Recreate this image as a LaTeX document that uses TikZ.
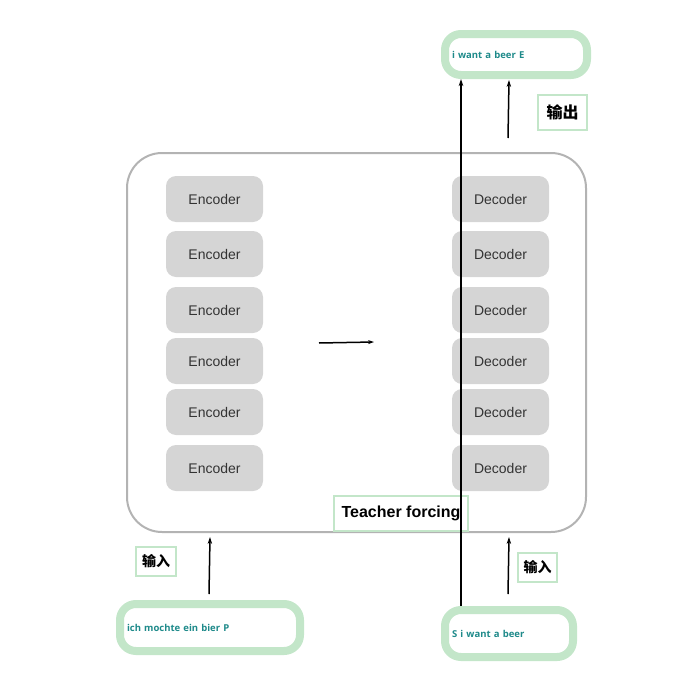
\documentclass[tikz,border=0pt]{standalone}
\usepackage{fontspec}
\setmainfont{Liberation Sans}
\newfontfamily\cjkfont{Noto Sans CJK SC}
\newfontfamily\tealfont{Open Sans}
\usetikzlibrary{arrows.meta}
\definecolor{boxgray}{HTML}{D5D5D5}
\definecolor{outergray}{HTML}{B3B3B3}
\definecolor{lgreen}{HTML}{C3E6C9}
\definecolor{tealtxt}{HTML}{1E8A8A}
\definecolor{txtgray}{HTML}{333333}
\tikzset{
  block/.style={fill=boxgray, rounded corners=10pt, minimum width=97pt, minimum height=46pt,
    inner sep=0pt, text=txtgray, font=\fontsize{14}{16}\selectfont},
  seqbox/.style={draw=lgreen, line width=8pt, fill=white, rounded corners=16pt, inner sep=0pt,
    align=left, text=tealtxt, font=\tealfont\bfseries\fontsize{9.5}{11}\selectfont},
  tagbox/.style={draw=lgreen, line width=2pt, fill=white, inner sep=0pt,
    font=\bfseries\fontsize{16}{18}\selectfont},
  arr/.style={line width=1.5pt, -{Stealth[length=7pt,width=4.5pt]}},
}
\begin{document}
\begin{tikzpicture}[x=1pt,y=-1pt]
\useasboundingbox (0,0) rectangle (699,680);
% outer box
\node[draw=outergray, line width=2pt, rounded corners=35pt, minimum width=459pt, minimum height=379pt, inner sep=0pt] (outer) at (356.5,342.5) {};
% encoders and decoders
\foreach \y [count=\i] in {199,254,310,361,412,468} {
  \node[block] (enc\i) at (214.5,\y) {Encoder};
  \node[block] (dec\i) at (500.5,\y) {Decoder};
}
% tag boxes
\node[tagbox, minimum width=134pt, minimum height=35pt] (tf) at (401,513.5) {Teacher forcing};
\node[tagbox, minimum width=49pt, minimum height=35pt] (out) at (562.5,112.5) {\cjkfont\bfseries 输出};
\node[tagbox, minimum width=40pt, minimum height=29pt] (inl) at (156,561.5) {\cjkfont\bfseries\fontsize{14}{16}\selectfont 输入};
\node[tagbox, minimum width=39pt, minimum height=29pt] (inr) at (537.5,567.5) {\cjkfont\bfseries\fontsize{14}{16}\selectfont 输入};
% sequence boxes
\node[seqbox, minimum width=180pt, minimum height=47pt, text width=166pt] (src) at (210,627.5) {ich mochte ein bier P};
\node[seqbox, minimum width=128pt, minimum height=47pt, text width=114pt] (tgt) at (509,633.5) {S i want a beer};
\node[seqbox, minimum width=142pt, minimum height=41pt, text width=128pt] (res) at (516,54.5) {i want a beer E};
% connector end points
\coordinate (a1s) at (209,594);
\coordinate (a1e) at (210,537);
\coordinate (a2s) at (508,594);
\coordinate (a2e) at (509,537);
\coordinate (a3s) at (508,138);
\coordinate (a3e) at (509,80);
\coordinate (m1) at (319,343);
\coordinate (m2) at (374,342);
\coordinate (vs) at (461,606);
\coordinate (ve) at (461,79);
% connectors
\draw[arr] (a1s) -- (a1e);
\draw[arr] (a2s) -- (a2e);
\draw[arr] (a3s) -- (a3e);
\draw[line width=1.5pt, -{Stealth[length=6pt,width=4pt]}] (m1) -- (m2);
\draw[arr, line width=2pt] (vs) -- (ve);
\end{tikzpicture}
\end{document}
